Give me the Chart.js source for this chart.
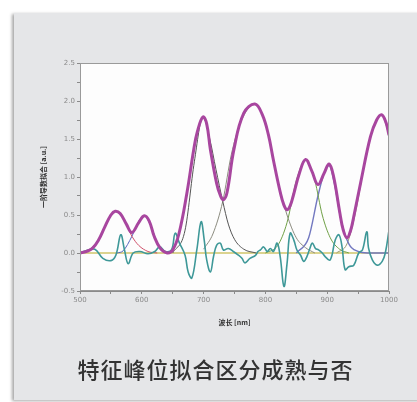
<!DOCTYPE html>
<html>
<head>
<meta charset="utf-8">
<script src="https://cdn.jsdelivr.net/npm/chart.js@4/dist/chart.umd.min.js"></script>
<style>
  html, body { margin: 0; padding: 0; background: #fff; }
  body { width: 417px; height: 402px; position: relative; overflow: hidden; font-family: "Noto Sans CJK SC", "Noto Sans", sans-serif; }
  .card { position: absolute; left: 14px; top: 13px; width: 410px; height: 387px; background: #e5e6e8; box-shadow: -2px 1px 3px rgba(0,0,0,0.35); }
  #chartWrap { position: absolute; left: 0; top: 0; width: 417px; height: 402px; }
  .caption { position: absolute; left: 14px; width: 403px; top: 352px; text-align: center; font-size: 22px; font-weight: 500; color: #333; letter-spacing: 1px; }
</style>
</head>
<body>
<div class="card"></div>
<div id="chartWrap"><canvas id="peakChart"></canvas></div>
<div class="caption">特征峰位拟合区分成熟与否</div>
<script>
// fitted first-derivative curve (magenta)
const fitNm  = [500, 510, 520, 530, 540, 550, 557, 565, 575, 584, 595, 604, 612, 620, 630, 641, 650, 660, 673, 684, 690, 699, 705, 711, 721, 727, 732, 738, 749, 765, 783, 795, 805, 813, 824, 830, 835, 840, 845, 855, 865, 875, 885, 895, 903, 910, 920, 926, 932, 938, 943, 954, 970, 980, 988, 995, 1000];
const fitVal = [0.0, 0.02, 0.06, 0.17, 0.34, 0.50, 0.55, 0.52, 0.38, 0.27, 0.40, 0.49, 0.42, 0.22, 0.06, 0.0, 0.04, 0.25, 0.79, 1.36, 1.60, 1.79, 1.70, 1.36, 0.92, 0.76, 0.70, 0.80, 1.36, 1.84, 1.96, 1.82, 1.55, 1.22, 0.80, 0.63, 0.57, 0.62, 0.75, 1.05, 1.23, 1.08, 0.90, 1.05, 1.17, 1.02, 0.55, 0.30, 0.20, 0.30, 0.48, 0.92, 1.53, 1.75, 1.82, 1.72, 1.55];

// residual (teal)
const resNm  = [500, 510, 524, 537, 550, 558, 566, 572, 578, 586, 597, 610, 621, 629, 638, 648, 654, 661, 670, 675, 681, 689, 696, 701, 705, 711, 716, 721, 727, 732, 740, 748, 755, 762, 767, 775, 784, 788, 792, 797, 803, 808, 813, 819, 824, 830, 835, 840, 846, 851, 857, 862, 867, 872, 876, 881, 886, 892, 897, 905, 913, 919, 924, 929, 935, 943, 951, 957, 964, 967, 973, 981, 989, 994, 1000];
const resVal = [0.0, 0.03, 0.05, -0.07, -0.10, -0.03, 0.24, 0.04, -0.14, 0.0, 0.02, -0.01, 0.02, 0.08, 0.02, 0.04, 0.26, 0.13, -0.03, -0.25, -0.33, 0.04, 0.41, 0.17, -0.09, -0.25, -0.05, 0.10, 0.13, 0.04, 0.06, 0.02, -0.02, -0.07, -0.13, -0.07, -0.03, 0.02, 0.04, 0.08, 0.02, 0.06, 0.02, 0.13, -0.05, -0.44, -0.14, 0.26, 0.17, 0.04, -0.03, -0.11, -0.05, 0.06, 0.13, 0.06, 0.04, 0.0, -0.05, -0.09, 0.17, 0.24, 0.08, -0.22, -0.18, -0.16, 0.0, 0.04, 0.28, 0.06, -0.09, -0.16, -0.11, 0.0, 0.30];

// individual fitted peaks
const p1Nm = [500, 510, 530, 545, 557, 570, 584, 595, 610, 625];
const p1Val = [0.0, 0.02, 0.17, 0.42, 0.55, 0.45, 0.22, 0.10, 0.02, 0.0];
const p2Nm = [560, 570, 584, 595, 604, 615, 628, 640];
const p2Val = [0.0, 0.03, 0.22, 0.42, 0.49, 0.35, 0.08, 0.0];
const p3Nm = [650, 670, 685, 699, 710, 720, 731, 740, 750, 765, 785];
const p3Val = [0.0, 0.30, 1.20, 1.79, 1.50, 1.10, 0.68, 0.38, 0.18, 0.05, 0.0];
const p4Nm = [700, 715, 731, 745, 760, 783, 805, 820, 835, 850, 865, 880];
const p4Val = [0.05, 0.25, 0.68, 1.30, 1.72, 1.96, 1.55, 0.95, 0.50, 0.20, 0.07, 0.0];
const p5Nm = [800, 820, 835, 850, 865, 880, 892, 905, 920, 935];
const p5Val = [0.0, 0.10, 0.40, 0.95, 1.22, 0.95, 0.50, 0.20, 0.05, 0.0];
const p6Nm = [850, 870, 885, 895, 903, 912, 922, 935, 950, 965, 1000];
const p6Val = [0.0, 0.20, 0.75, 1.05, 1.15, 0.90, 0.45, 0.12, 0.02, 0.0, 0.0];
const p7Nm = [915, 932, 945, 960, 975, 988, 1000];
const p7Val = [0.0, 0.12, 0.50, 1.15, 1.65, 1.82, 1.55];

const baseNm = [500, 1000];
const baseVal = [0, 0];

// axis ticks
const xTickLabels = [500, 600, 700, 800, 900, 1000];
const yTickLabels = [-0.5, 0.0, 0.5, 1.0, 1.5, 2.0, 2.5];

const pts = (xs, ys) => xs.map((x, i) => ({ x: x, y: ys[i] }));

const line = (label, xs, ys, color, width, order, mode) => ({
  label: label,
  data: pts(xs, ys),
  borderColor: color,
  borderWidth: width,
  pointRadius: 0,
  fill: false,
  tension: 0.4,
  cubicInterpolationMode: mode,
  order: order
});

const frame = {
  id: 'frame',
  beforeDatasetsDraw(chart) {
    const a = chart.chartArea, c = chart.ctx;
    c.save();
    c.fillStyle = '#fdfdfd';
    c.fillRect(a.left, a.top, a.right - a.left, a.bottom - a.top);
    c.restore();
  },
  afterDraw(chart) {
    const a = chart.chartArea, c = chart.ctx;
    c.save();
    c.strokeStyle = '#9a9a9a';
    c.lineWidth = 1;
    c.strokeRect(a.left + 0.5, a.top + 0.5, a.right - a.left - 1, a.bottom - a.top - 1);
    c.restore();
  }
};

const tickFont = { family: 'DejaVu Sans', size: 7 };

new Chart(document.getElementById('peakChart'), {
  type: 'line',
  data: {
    datasets: [
      line('fit', fitNm, fitVal, '#a8469f', 3, 1, 'default'),
      line('residual', resNm, resVal, '#3e9898', 1.6, 2, 'default'),
      line('p1', p1Nm, p1Val, '#d0506a', 1, 3, 'monotone'),
      line('p2', p2Nm, p2Val, '#5566c0', 1, 3, 'monotone'),
      line('p3', p3Nm, p3Val, '#555555', 1, 3, 'monotone'),
      line('p4', p4Nm, p4Val, '#8c8c80', 1, 3, 'monotone'),
      line('p5', p5Nm, p5Val, '#6fa046', 1, 3, 'monotone'),
      line('p6', p6Nm, p6Val, '#7278c0', 1.4, 3, 'monotone'),
      line('p7', p7Nm, p7Val, '#9a9a70', 1, 3, 'monotone'),
      line('baseline', baseNm, baseVal, '#cfc46a', 1.6, 4, 'monotone')
    ]
  },
  options: {
    responsive: true,
    maintainAspectRatio: false,
    animation: false,
    layout: { padding: { left: 36, top: 63, right: 28, bottom: 71 } },
    plugins: { legend: { display: false }, tooltip: { enabled: false } },
    scales: {
      x: {
        type: 'linear',
        min: 500,
        max: 1000,
        afterFit: (s) => { s.height = 40; },
        afterBuildTicks: (s) => {
          const t = [];
          for (let v = 500; v <= 1000; v += 50) t.push({ value: v });
          s.ticks = t;
        },
        ticks: {
          color: '#8a8a8a',
          font: tickFont,
          padding: 2,
          maxRotation: 0,
          autoSkip: false,
          callback: (v) => xTickLabels.includes(v) ? String(v) : ''
        },
        grid: { drawOnChartArea: false, tickLength: 3, color: '#8a8a8a' },
        border: { color: '#8a8a8a' },
        title: {
          display: true,
          text: '波长 [nm]',
          color: '#333',
          font: { family: 'Noto Sans CJK SC', size: 7, weight: 'bold' },
          padding: { top: 0, bottom: 4 }
        }
      },
      y: {
        min: -0.5,
        max: 2.5,
        afterFit: (s) => { s.width = 44; },
        afterBuildTicks: (s) => {
          const t = [];
          for (let v = -0.5; v <= 2.5001; v += 0.25) t.push({ value: Math.round(v * 100) / 100 });
          s.ticks = t;
        },
        ticks: {
          color: '#8a8a8a',
          font: tickFont,
          padding: 2,
          autoSkip: false,
          callback: (v) => yTickLabels.includes(v) ? v.toFixed(1) : ''
        },
        grid: { drawOnChartArea: false, tickLength: 3, color: '#8a8a8a' },
        border: { color: '#8a8a8a' },
        title: {
          display: true,
          text: '一阶导数拟合 [a.u.]',
          color: '#333',
          font: { family: 'Noto Sans CJK SC', size: 7, weight: 'bold' },
          padding: { top: 3, bottom: 0 }
        }
      }
    }
  },
  plugins: [frame]
});
</script>
</body>
</html>
